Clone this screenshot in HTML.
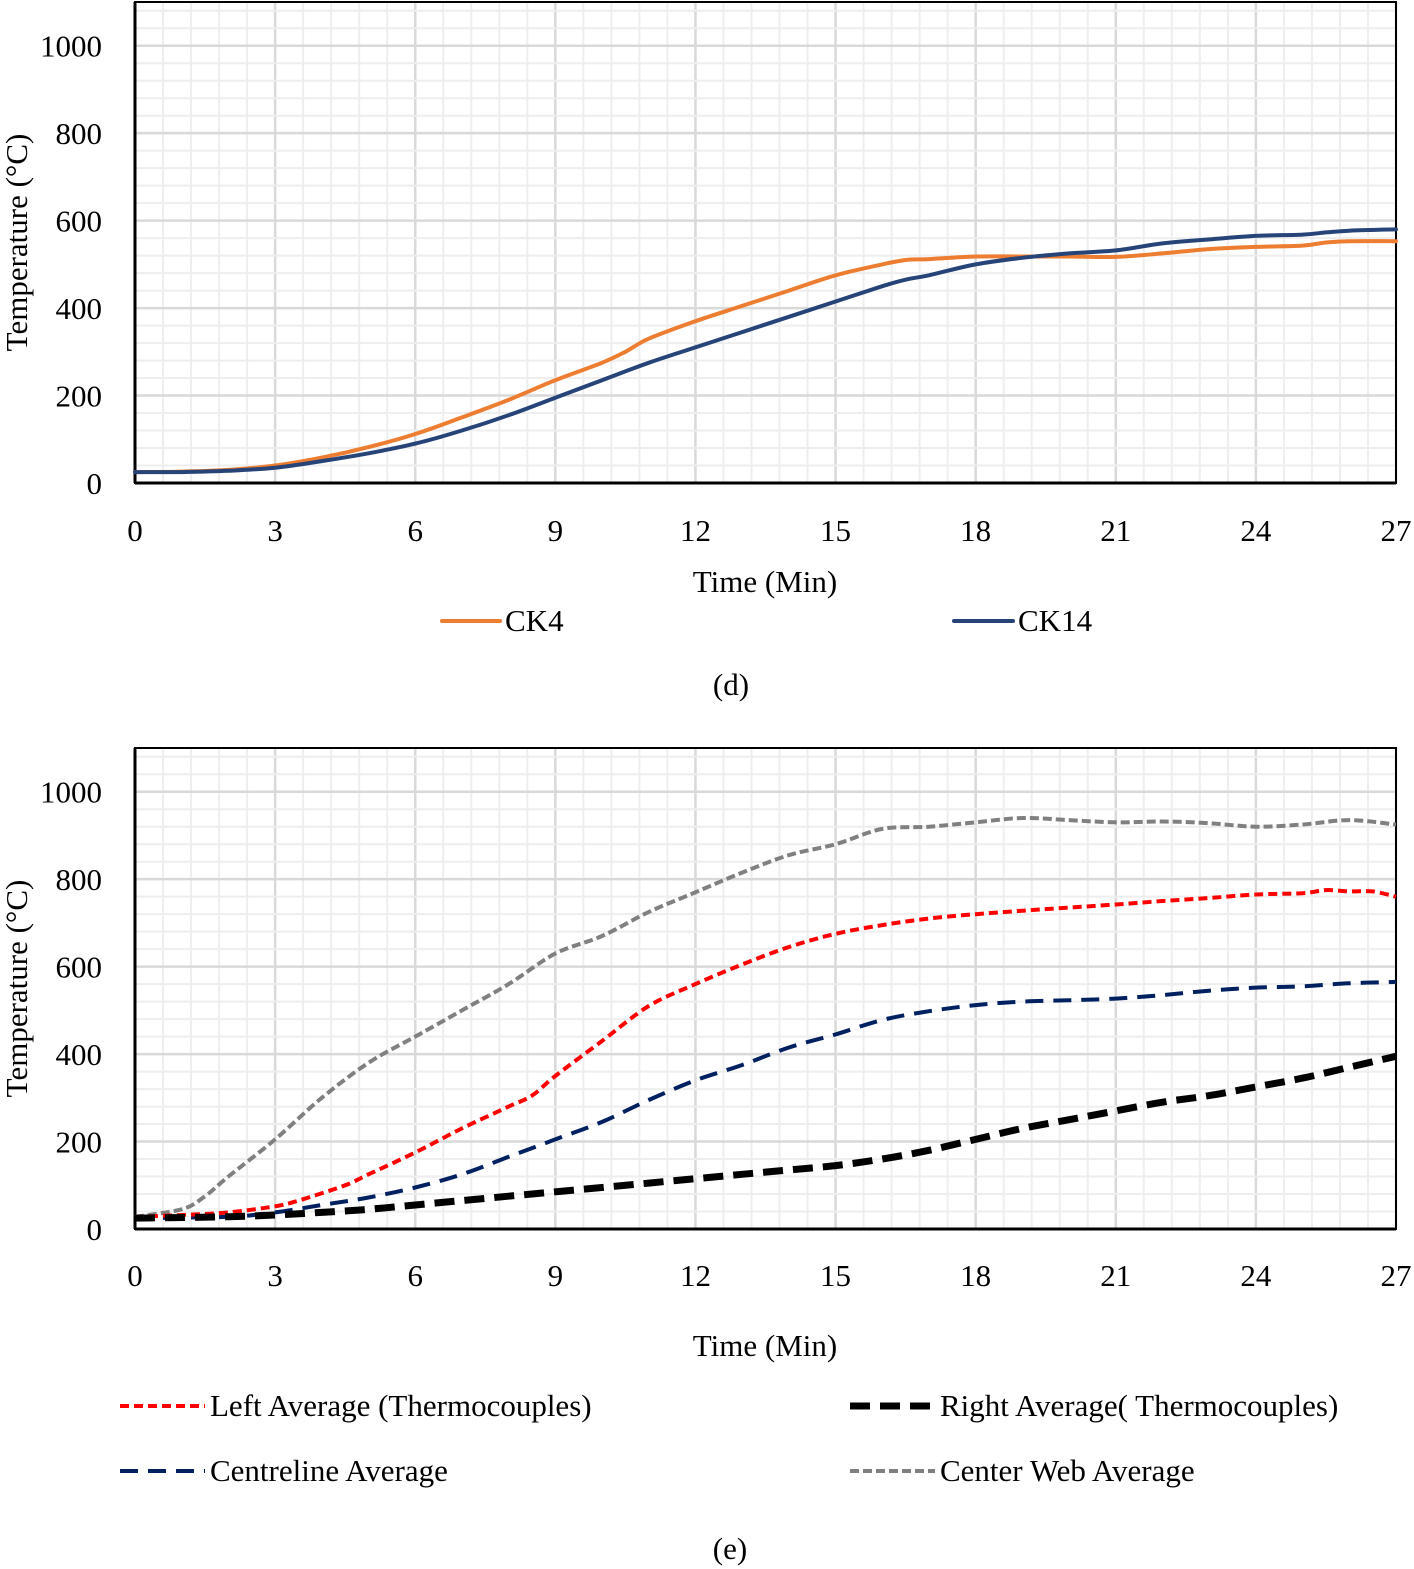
<!DOCTYPE html>
<html><head><meta charset="utf-8"><style>
body{margin:0;background:#fff;width:1414px;height:1569px;overflow:hidden}
svg{display:block}
svg text{font-family:"Liberation Serif",serif;font-size:31px;fill:#000}
</style></head><body>
<svg id="s" width="1414" height="1569"></svg>
<script>
const xTicks=[0,3,6,9,12,15,18,21,24,27];
const yTicks=[0,200,400,600,800,1000];
const ck4T=[0,1,2,3,4,5,6,7,8,9,10,10.5,11,12,13,14,15,16,16.5,17,18,19,20,21,22,23,24,25,25.5,26,27];
const ck4V=[25,26,30,40,58,82,112,150,190,235,275,300,330,370,405,440,475,500,510,512,518,518,518,517,525,535,540,543,550,553,553];
const ck14T=[0,1,2,3,4,5,6,7,8,9,10,11,12,13,14,15,16,16.5,17,18,19,20,21,22,23,24,25,25.5,26,27];
const ck14V=[25,25,28,35,50,68,90,120,155,195,235,275,310,345,380,415,450,465,475,500,515,525,532,548,557,565,568,573,577,580];
const leftT=[0,1,2,3,3.5,4.5,5,6,7,8,8.5,9,10,11,12,13,14,15,16,17,18,19,20,21,22,23,24,25,25.5,26,26.5,27];
const leftV=[28,32,38,52,65,100,125,175,230,280,305,350,430,510,560,605,645,675,695,710,720,728,735,742,750,757,765,768,775,772,772,760];
const centT=[0,2,3,4,5,6,7,8,9,10,11,12,13,14,15,16,17,18,19,20,21,22,23,24,25,26,27];
const centV=[25,28,38,55,72,95,125,165,205,245,295,340,375,415,445,478,498,512,520,523,527,535,545,552,555,562,565];
const rightT=[0,2,3,4,5,6,7,8,9,10,11,12,13,14,15,16,17,18,19,20,21,22,23,24,25,26,27];
const rightV=[25,28,32,38,45,55,65,75,85,95,105,115,125,135,145,160,180,205,230,250,270,290,305,325,345,370,395];
const webT=[0,1,1.5,2,3,4,5,6,7,8,9,10,11,12,13,14,15,16,17,18,19,20,21,22,23,24,25,26,27];
const webV=[28,45,75,120,205,300,380,440,500,560,630,670,725,770,815,855,880,915,920,930,940,935,930,932,928,920,925,935,925];

const S=document.getElementById('s'),NS='http://www.w3.org/2000/svg';
function el(t,a,p){const e=document.createElementNS(NS,t);for(const k in a)e.setAttribute(k,a[k]);(p||S).appendChild(e);return e;}
const X0=135,X1=1396;
function sx(v){return X0+(X1-X0)*v/27;}
function mkY(y0){return v=>y0-v*481/1100;}
function smooth(pts){let d='M'+pts[0][0].toFixed(1)+','+pts[0][1].toFixed(1);
  for(let i=0;i<pts.length-1;i++){const p0=pts[i-1]||pts[i],p1=pts[i],p2=pts[i+1],p3=pts[i+2]||p2;
    const c1=[p1[0]+(p2[0]-p0[0])/6,p1[1]+(p2[1]-p0[1])/6],c2=[p2[0]-(p3[0]-p1[0])/6,p2[1]-(p3[1]-p1[1])/6];
    d+='C'+c1.map(n=>n.toFixed(1))+' '+c2.map(n=>n.toFixed(1))+' '+p2.map(n=>n.toFixed(1));}
  return d;}

function chart(name,y0,series,xTickY,titleY){
  const sy=mkY(y0),top=sy(1100);
  const g=el('g',{});
  
  
  for(let v=0;v<=27.001;v+=0.6){const x=sx(v);const major=Math.abs(v/3-Math.round(v/3))<1e-6;
    const l=el('line',{x1:x,x2:x,y1:top,y2:y0,stroke:major?'#d9d9d9':'#eeeeee','stroke-width':major?2.5:2},g);
    }
  for(let v=40;v<=1100;v+=40){const y=sy(v);const major=v%200===0;
    const l=el('line',{x1:X0,x2:X1,y1:y,y2:y,stroke:major?'#d9d9d9':'#eeeeee','stroke-width':major?2.5:2},g);
    }
  const b=el('rect',{x:X0,y:top,width:X1-X0,height:y0-top,fill:'none',stroke:'#000','stroke-width':2},g);
  
  el('line',{x1:X0,x2:X0,y1:top,y2:y0,stroke:'#000','stroke-width':3},g);
  el('line',{x1:X0,x2:X1,y1:y0,y2:y0,stroke:'#000','stroke-width':3},g);
  series.forEach(s=>{
    const d=smooth(s.t.map((t,i)=>[sx(t),sy(s.v[i])]));
    const p=el('path',{d:d,fill:'none',stroke:s.c,'stroke-width':s.w,'stroke-dasharray':s.da||'','stroke-linejoin':'round','stroke-linecap':s.da?'butt':'round'},g);
    
  });
  yTicks.forEach(v=>{const t=el('text',{x:102,y:sy(v)+11,'text-anchor':'end'},g);t.textContent=v;
    });
  xTicks.forEach(v=>{const t=el('text',{x:sx(v),y:xTickY,'text-anchor':'middle'},g);t.textContent=v;
    });
  const xt=el('text',{x:765,y:titleY,'text-anchor':'middle'},g);xt.textContent='Time (Min)';
  
  const cy=sy(550);
  const yt=el('text',{x:0,y:0,'text-anchor':'middle',transform:`translate(27,${cy}) rotate(-90)`},g);yt.textContent='Temperature (°C)';
  
}
function legend(x1,x2,y,c,w,da,label){
  el('line',{x1:x1,x2:x2,y1:y,y2:y,stroke:c,'stroke-width':w,'stroke-dasharray':da||'','stroke-linecap':da?'butt':'round'});
  const t=el('text',{x:x2+5,y:y+10});t.textContent=label;
  
}
function cap(x,y,s){const t=el('text',{x:x,y:y,'text-anchor':'middle'});t.textContent=s;
  }

chart('chart-d',483,[
 {n:'series-ck4',t:ck4T,v:ck4V,c:'#ed7d31',w:4},
 {n:'series-ck14',t:ck14T,v:ck14V,c:'#264478',w:4}],541,592);
legend(442,500,621,'#ed7d31',4,null,'CK4');
legend(954,1013,621,'#264478',4,null,'CK14');
cap(731,695,'(d)');

chart('chart-e',1229,[
 {n:'series-center-web',t:webT,v:webV,c:'#808080',w:4,da:'9 4'},
 {n:'series-centreline',t:centT,v:centV,c:'#002060',w:4,da:'18 10'},
 {n:'series-left',t:leftT,v:leftV,c:'#ff0000',w:4,da:'9 5'},
 {n:'series-right',t:rightT,v:rightV,c:'#000000',w:7,da:'20 10'}],1286,1356);
legend(120,205,1406,'#ff0000',4,'9 5','Left Average (Thermocouples)');
legend(850,935,1406,'#000',7,'20 10','Right Average( Thermocouples)');
legend(120,205,1471,'#002060',4,'18 10','Centreline Average');
legend(850,935,1471,'#808080',4,'9 4','Center Web Average');
cap(730,1559,'(e)');
</script>
</body></html>
